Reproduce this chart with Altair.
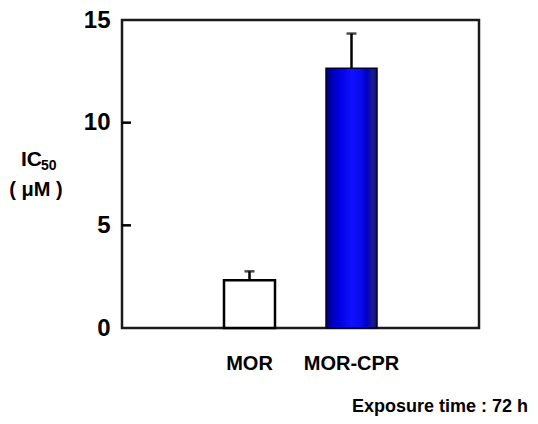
import altair as alt
import pandas as pd

categories = ["MOR", "MOR-CPR"]
ic50 = [2.32, 12.65]
sem = [0.44, 1.69]
y_ticks = [0, 5, 10, 15]
inner_ticks = [5, 10]
ylabel_main = "IC"
ylabel_sub = "50"
ylabel_unit = "( μM )"
note = "Exposure time : 72 h"

FONT = "Liberation Sans, Arial, Noto Sans CJK JP"

df = pd.DataFrame({"cell": categories, "ic50": ic50, "sem": sem})
df["upper"] = df["ic50"] + df["sem"]

x_scale = alt.Scale(domain=categories, paddingInner=0.5, paddingOuter=1)
x_enc = alt.X(
    "cell:N",
    scale=x_scale,
    axis=alt.Axis(title=None, labelAngle=0, labelFont=FONT, labelFontSize=20,
                  labelFontWeight="bold", labelColor="black", ticks=False,
                  domain=False, labelPadding=25),
)
y_scale = alt.Scale(domain=[0, 15], nice=False, zero=True)
y_enc = alt.Y(
    "ic50:Q",
    scale=y_scale,
    axis=alt.Axis(title=None, values=y_ticks, labelFont=FONT, labelFontSize=24,
                  labelFontWeight="bold", labelColor="black", ticks=False,
                  domain=False, grid=False, labelPadding=12),
)

base = alt.Chart(df)

white_bar = base.transform_filter(alt.datum.cell == "MOR").mark_bar(
    fill="white", stroke="black", strokeWidth=2.5
).encode(x=x_enc, y=y_enc)

blue_grad = alt.Gradient(
    gradient="linear",
    x1=0, x2=1, y1=0, y2=0,
    stops=[
        alt.GradientStop(color="#000070", offset=0),
        alt.GradientStop(color="#0000a8", offset=0.08),
        alt.GradientStop(color="#0000e0", offset=0.25),
        alt.GradientStop(color="#1010ff", offset=0.5),
        alt.GradientStop(color="#0a0af0", offset=0.68),
        alt.GradientStop(color="#0000c0", offset=0.8),
        alt.GradientStop(color="#1c1c90", offset=0.92),
        alt.GradientStop(color="#101060", offset=1),
    ],
)
blue_bar = base.transform_filter(alt.datum.cell == "MOR-CPR").mark_bar(
    fill=blue_grad, stroke="#000030", strokeWidth=1.5
).encode(x=x_enc, y=y_enc)

err_rule = base.mark_rule(color="black", strokeWidth=2.5).encode(
    x=alt.X("cell:N", scale=x_scale),
    y=alt.Y("ic50:Q", scale=y_scale),
    y2="upper:Q",
)
err_cap = base.mark_tick(color="black", size=10, thickness=2.5).encode(
    x=alt.X("cell:N", scale=x_scale),
    y=alt.Y("upper:Q", scale=y_scale),
)

ticks = alt.Chart(pd.DataFrame({"v": inner_ticks})).mark_rule(
    color="black", strokeWidth=2.5
).encode(y=alt.Y("v:Q", scale=y_scale), x=alt.value(0), x2=alt.value(9))

def label(text, xpx, ypx, size, align):
    return alt.Chart(pd.DataFrame({"t": [text]})).mark_text(
        font=FONT, fontSize=size, fontWeight="bold", color="black",
        align=align, baseline="alphabetic"
    ).encode(text="t:N", x=alt.value(xpx), y=alt.value(ypx))

t_ic = label(ylabel_main, -80, 146, 21, "right")
t_sub = label(ylabel_sub, -81, 150, 14, "left")
t_unit = label(ylabel_unit, -86, 176, 20, "center")
t_note = label(note, 406, 392, 18, "right")

chart = alt.layer(
    white_bar, blue_bar, err_rule, err_cap, ticks, t_ic, t_sub, t_unit, t_note
).properties(
    width=357, height=308,
    autosize=alt.AutoSizeParams(type="none"),
    padding={"left": 114, "top": 12, "right": 50, "bottom": 92},
).configure_view(
    stroke="#1a1a1a", strokeWidth=2.5
)

chart.save("out.html", embed_options={"renderer": "svg", "actions": False})
